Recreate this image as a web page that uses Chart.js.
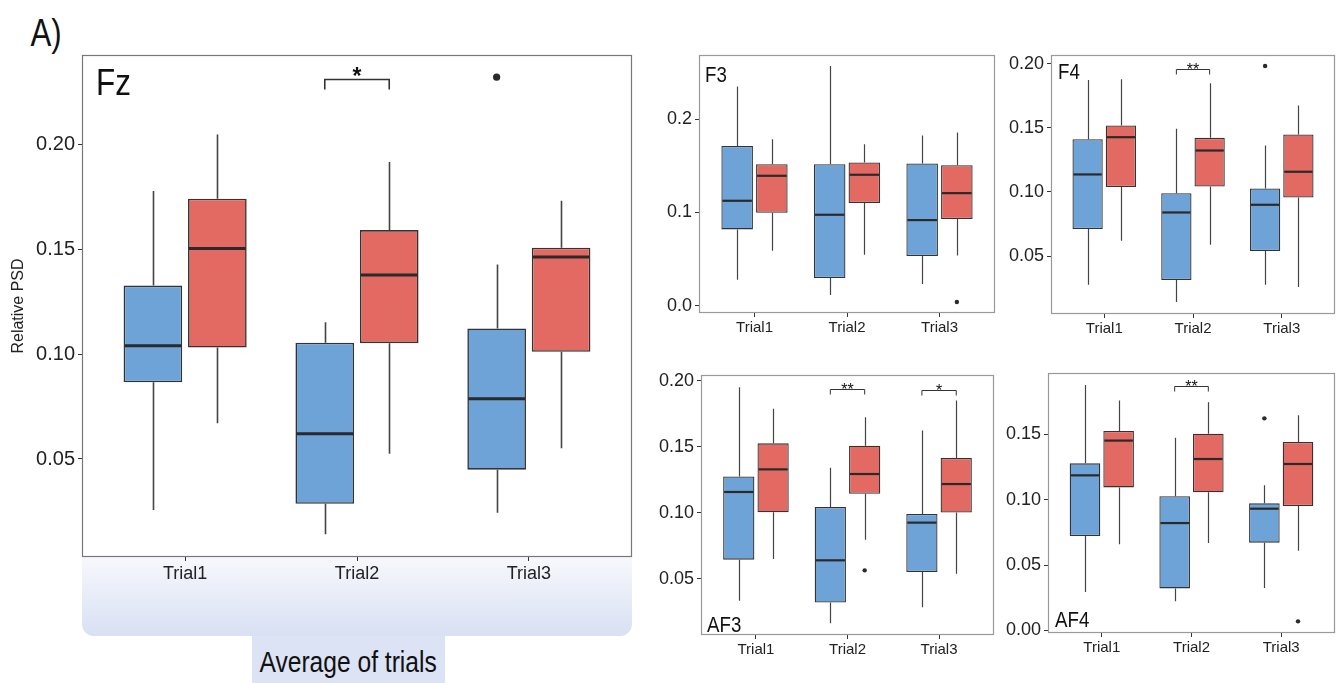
<!DOCTYPE html>
<html lang="en">
<head>
<meta charset="UTF-8">
<title>Relative PSD</title>
<script src="https://cdn.jsdelivr.net/npm/chart.js"></script>
<style>
    body { margin: 0; width: 1340px; height: 683px; background: #fff; position: relative; overflow: hidden; font-family: "Liberation Sans", Arial, sans-serif; }
    canvas { position: absolute; }
    .estreito { display: inline-block; transform: scaleX(0.82); transform-origin: center; white-space: nowrap; }
    #letra { position: absolute; left: 27px; top: 12px; font-size: 38px; color: #111; }
    #faixa { position: absolute; left: 82px; top: 557px; width: 550px; height: 79px; background: linear-gradient(#f7f8fc, #d8e0f3); border-radius: 0 0 12px 12px; }
    #media { position: absolute; left: 252px; top: 636px; width: 193px; height: 47px; background: #dbe3f4; display: flex; justify-content: center; font-size: 30px; line-height: 52px; color: #111; white-space: nowrap; }
</style>
</head>
<body>
    <div id="letra"><span class="estreito">A)</span></div>
    <div id="faixa"></div>
    <div id="media"><span class="estreito">Average of trials</span></div>

    <canvas id="fz" width="640" height="570" style="left:0px;top:35px"></canvas>
    <canvas id="f3" width="350" height="310" style="left:650px;top:35px"></canvas>
    <canvas id="f4" width="340" height="310" style="left:1000px;top:35px"></canvas>
    <canvas id="af3" width="350" height="328" style="left:650px;top:355px"></canvas>
    <canvas id="af4" width="340" height="330" style="left:1000px;top:353px"></canvas>

<script>
    const trials = ['Trial1', 'Trial2', 'Trial3'];

    // cada caixa: [min, q1, mediana, q3, max]
    const fzBlue = [[0.0256, 0.0866, 0.1041, 0.1328, 0.1780], [0.0141, 0.0286, 0.0621, 0.1055, 0.1153], [0.0243, 0.0449, 0.0788, 0.1123, 0.1429]];
    const fzRed = [[0.0671, 0.1032, 0.1505, 0.1743, 0.2049], [0.0525, 0.1053, 0.1379, 0.1593, 0.1918], [0.0551, 0.1012, 0.1464, 0.1509, 0.1733]];
    const fzOutBlue = [[], [], [0.2323]];
    const fzOutRed = [[], [], []];
    const fzTicks = [0.05, 0.10, 0.15, 0.20];
    const fzRange = [0.0032, 0.2429];
    const fzSig = [[2, 0.2314, '*']];

    const f3Blue = [[0.0279, 0.0818, 0.1125, 0.1714, 0.2350], [0.0114, 0.0296, 0.0975, 0.1518, 0.2571], [0.0232, 0.0532, 0.0918, 0.1525, 0.1825]];
    const f3Red = [[0.0589, 0.0996, 0.1393, 0.1518, 0.1786], [0.0546, 0.1100, 0.1404, 0.1536, 0.1732], [0.0539, 0.0929, 0.1207, 0.1507, 0.1857]];
    const f3OutBlue = [[], [], []];
    const f3OutRed = [[], [], [0.0039]];
    const f3Ticks = [0.0, 0.1, 0.2];
    const f3Range = [-0.0079, 0.2689];
    const f3Sig = [];

    const f4Blue = [[0.0276, 0.0710, 0.1137, 0.1412, 0.1875], [0.0141, 0.0313, 0.0840, 0.0991, 0.1493], [0.0276, 0.0539, 0.0900, 0.1028, 0.1363]];
    const f4Red = [[0.0619, 0.1038, 0.1428, 0.1519, 0.1880], [0.0588, 0.1043, 0.1324, 0.1423, 0.1849], [0.0258, 0.0957, 0.1158, 0.1449, 0.1675]];
    const f4OutBlue = [[], [], [0.1984]];
    const f4OutRed = [[], [], []];
    const f4Ticks = [0.05, 0.10, 0.15, 0.20];
    const f4Range = [0.0047, 0.2070];
    const f4Sig = [[2, 0.1958, '**']];

    const af3Blue = [[0.0336, 0.0646, 0.1158, 0.1276, 0.1950], [0.0164, 0.0321, 0.0641, 0.1044, 0.1342], [0.0285, 0.0553, 0.0926, 0.0991, 0.1624]];
    const af3Red = [[0.0651, 0.1004, 0.1329, 0.1526, 0.1788], [0.0797, 0.1145, 0.1294, 0.1508, 0.1723], [0.0540, 0.1002, 0.1218, 0.1415, 0.1851]];
    const af3OutBlue = [[], [], []];
    const af3OutRed = [[], [0.0565], []];
    const af3Ticks = [0.05, 0.10, 0.15, 0.20];
    const af3Range = [0.0076, 0.2043];
    const af3Sig = [[2, 0.1940, '**'], [3, 0.1930, '*']];

    const af4Blue = [[0.0293, 0.0722, 0.1186, 0.1278, 0.1878], [0.0222, 0.0321, 0.0821, 0.1026, 0.1474], [0.0324, 0.0671, 0.0931, 0.0972, 0.1110]];
    const af4Red = [[0.0658, 0.1094, 0.1452, 0.1526, 0.1758], [0.0668, 0.1056, 0.1311, 0.1505, 0.1745], [0.0610, 0.0952, 0.1273, 0.1441, 0.1645]];
    const af4OutBlue = [[], [], [0.1622]];
    const af4OutRed = [[], [], [0.0069]];
    const af4Ticks = [0.00, 0.05, 0.10, 0.15];
    const af4Range = [-0.0020, 0.1969];
    const af4Sig = [[2, 0.1867, '**']];

    const AZUL = '#6ea3d8';
    const VERMELHO = '#e36a62';

    // desenha bigodes, medianas, outliers, colchetes e titulo
    const boxPlugin = {
        id: 'boxPlugin',
        afterDatasetsDraw(chart, args, opts) {
            const ctx = chart.ctx;
            const y = chart.scales.y;
            const area = chart.chartArea;
            ctx.save();
            ctx.lineCap = 'butt';
            chart.data.datasets.forEach((ds, di) => {
                const meta = chart.getDatasetMeta(di);
                meta.data.forEach((bar, i) => {
                    const s = ds.caixas[i];
                    const x = Math.round(bar.x) + 0.5;
                    ctx.strokeStyle = '#444';
                    ctx.lineWidth = opts.whisker;
                    ctx.beginPath();
                    ctx.moveTo(x, y.getPixelForValue(s[4]));
                    ctx.lineTo(x, y.getPixelForValue(s[3]));
                    ctx.moveTo(x, y.getPixelForValue(s[1]));
                    ctx.lineTo(x, y.getPixelForValue(s[0]));
                    ctx.stroke();

                    const ym = y.getPixelForValue(s[2]);
                    ctx.strokeStyle = '#2a2a2a';
                    ctx.lineWidth = opts.median;
                    ctx.beginPath();
                    ctx.moveTo(bar.x - bar.width / 2 + 1, ym);
                    ctx.lineTo(bar.x + bar.width / 2 - 1, ym);
                    ctx.stroke();

                    ctx.fillStyle = '#2a2a2a';
                    ds.outliers[i].forEach(v => {
                        ctx.beginPath();
                        ctx.arc(bar.x, y.getPixelForValue(v), opts.raio, 0, Math.PI * 2);
                        ctx.fill();
                    });
                });
            });

            // colchetes de significancia
            const m0 = chart.getDatasetMeta(0);
            const m1 = chart.getDatasetMeta(1);
            opts.sig.forEach(([t, v, label]) => {
                const xa = m0.data[t - 1].x;
                const xb = m1.data[t - 1].x;
                const yy = Math.round(y.getPixelForValue(v)) + 0.5;
                ctx.strokeStyle = '#333';
                ctx.lineWidth = opts.bracket;
                ctx.beginPath();
                ctx.moveTo(xa, yy + opts.perna);
                ctx.lineTo(xa, yy);
                ctx.lineTo(xb, yy);
                ctx.lineTo(xb, yy + opts.perna);
                ctx.stroke();
                ctx.fillStyle = '#111';
                ctx.font = opts.starFont;
                ctx.textAlign = 'center';
                ctx.textBaseline = 'alphabetic';
                ctx.fillText(label, (xa + xb) / 2, yy + opts.starDy);
            });

            // moldura
            ctx.strokeStyle = opts.moldura;
            ctx.lineWidth = 1.2;
            ctx.strokeRect(area.left + 0.5, area.top + 0.5, area.right - area.left - 1, area.bottom - area.top - 1);

            // nome do eletrodo (fonte estreita)
            ctx.fillStyle = '#111';
            ctx.font = opts.tituloFont;
            ctx.textAlign = 'left';
            ctx.textBaseline = 'alphabetic';
            const ty = opts.tituloBase > 0 ? area.top + opts.tituloBase : area.bottom + opts.tituloBase;
            ctx.translate(area.left + opts.tituloX, ty);
            ctx.scale(0.85, 1);
            ctx.fillText(opts.titulo, 0, 0);
            ctx.restore();
        }
    };

    function painel(id, blue, red, outBlue, outRed, ticks, range, dec, sig, g) {
        new Chart(document.getElementById(id), {
            type: 'bar',
            data: {
                datasets: [
                    { data: blue.map((b, i) => ({ x: i + 1, y: [b[1], b[3]] })), caixas: blue, outliers: outBlue, backgroundColor: AZUL },
                    { data: red.map((b, i) => ({ x: i + 1, y: [b[1], b[3]] })), caixas: red, outliers: outRed, backgroundColor: VERMELHO }
                ]
            },
            options: {
                responsive: false,
                animation: false,
                categoryPercentage: 0.75,
                barPercentage: 0.91,
                borderColor: '#333',
                borderWidth: g.borda,
                borderSkipped: false,
                layout: { padding: { top: g.top, right: g.right, left: 0, bottom: 0 } },
                plugins: {
                    legend: { display: false },
                    tooltip: { enabled: false },
                    boxPlugin: {
                        sig: sig, titulo: g.titulo, tituloFont: g.tituloFont, tituloX: g.tituloX, tituloBase: g.tituloBase,
                        whisker: g.whisker, median: g.median, raio: g.raio, bracket: g.bracket, perna: g.perna,
                        starFont: g.starFont, starDy: g.starDy, moldura: g.moldura
                    }
                },
                scales: {
                    x: {
                        type: 'linear', min: 0.4, max: 3.6, offset: false,
                        afterBuildTicks: s => { s.ticks = trials.map((t, i) => ({ value: i + 1 })); },
                        afterFit: s => { s.height = g.xAltura; },
                        ticks: { callback: v => trials[v - 1], color: '#222', font: { size: g.xFonte, family: 'Liberation Sans' }, maxRotation: 0, autoSkip: false, padding: 2 },
                        grid: { offset: false, drawOnChartArea: false, tickLength: 4, color: '#333' },
                        border: { display: false }
                    },
                    y: {
                        min: range[0], max: range[1],
                        afterBuildTicks: s => { s.ticks = ticks.map(v => ({ value: v })); },
                        afterFit: s => { s.width = g.yLargura; },
                        ticks: { callback: v => v.toFixed(dec), color: '#222', font: { size: g.yFonte, family: 'Liberation Sans' }, padding: 3 },
                        grid: { drawOnChartArea: false, tickLength: 4, color: '#333' },
                        border: { display: false },
                        title: g.yTitulo
                            ? { display: true, text: g.yTitulo, color: '#222', font: { size: 16, family: 'Liberation Sans' }, padding: { top: 9, bottom: 0 } }
                            : { display: false }
                    }
                }
            },
            plugins: [boxPlugin]
        });
    }

    const pequeno = {
        borda: 1.3, whisker: 1.2, median: 2.2, raio: 2.2, bracket: 1, perna: 5,
        starFont: '16px "Liberation Sans"', starDy: 5, moldura: '#999',
        tituloFont: '22px "Liberation Sans"', xFonte: 15, yFonte: 18, top: 20, right: 5
    };

    painel('fz', fzBlue, fzRed, fzOutBlue, fzOutRed, fzTicks, fzRange, 2, fzSig, {
        borda: 1.6, whisker: 1.6, median: 3, raio: 3.6, bracket: 1.6, perna: 10,
        starFont: 'bold 23px "Liberation Sans"', starDy: 4, moldura: '#777',
        titulo: 'Fz', tituloFont: '37px "Liberation Sans"', tituloX: 14, tituloBase: 40,
        xFonte: 18, yFonte: 20, top: 20, right: 8, yLargura: 82, xAltura: 48, yTitulo: 'Relative PSD'
    });
    painel('f3', f3Blue, f3Red, f3OutBlue, f3OutRed, f3Ticks, f3Range, 1, f3Sig,
        Object.assign({}, pequeno, { titulo: 'F3', tituloX: 6, tituloBase: 27, yLargura: 49, xAltura: 32 }));
    painel('f4', f4Blue, f4Red, f4OutBlue, f4OutRed, f4Ticks, f4Range, 2, f4Sig,
        Object.assign({}, pequeno, { titulo: 'F4', tituloX: 7, tituloBase: 24, yLargura: 51, xAltura: 31 }));
    painel('af3', af3Blue, af3Red, af3OutBlue, af3OutRed, af3Ticks, af3Range, 2, af3Sig,
        Object.assign({}, pequeno, { titulo: 'AF3', tituloX: 6, tituloBase: -3, right: 6, yLargura: 51, xAltura: 48 }));
    painel('af4', af4Blue, af4Red, af4OutBlue, af4OutRed, af4Ticks, af4Range, 2, af4Sig,
        Object.assign({}, pequeno, { titulo: 'AF4', tituloX: 7, tituloBase: -6, yLargura: 48, xAltura: 50 }));
</script>
</body>
</html>
